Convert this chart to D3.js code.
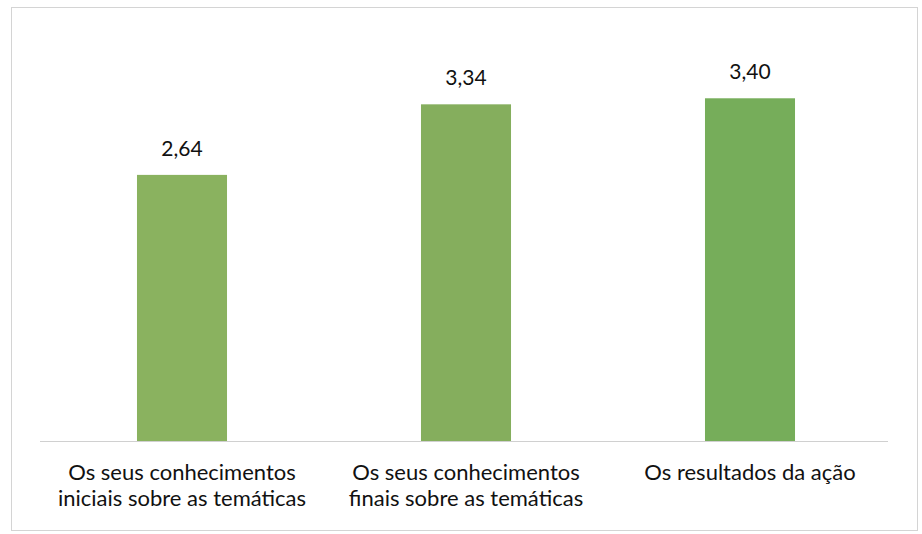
<!DOCTYPE html>
<html>
<head>
<meta charset="utf-8">
<script src="https://cdn.jsdelivr.net/npm/d3@7"></script>
<style>
  html, body { margin: 0; padding: 0; background: #fff; }
  svg { display: block; }
  text { font-family: Lato, "Open Sans", sans-serif; fill: #111; }
</style>
</head>
<body>
<svg id="chart" width="922" height="534"></svg>
<script>
// Average ratings per item
const categories = [
  ["Os seus conhecimentos", "iniciais sobre as temáticas"],
  ["Os seus conhecimentos", "finais sobre as temáticas"],
  ["Os resultados da ação"]
];
const values = [2.64, 3.34, 3.40];
const valueLabels = ["2,64", "3,34", "3,40"];
const barColors = ["#8ab25f", "#85ae5d", "#76ad5a"];

const svg = d3.select("#chart");

// outer frame
svg.append("rect")
  .attr("x", 11.5).attr("y", 7.5)
  .attr("width", 906).attr("height", 523)
  .attr("fill", "none").attr("stroke", "#d4d4d4").attr("stroke-width", 1);

const keys = categories.map((c, i) => i);
const x = d3.scaleBand().domain(keys).range([40, 892]).paddingInner(0.683).paddingOuter(0.3415);
const y = d3.scaleLinear().domain([0, 4]).range([441, 37.8]);

// bars
svg.append("g").selectAll("rect")
  .data(values)
  .join("rect")
  .attr("x", (d, i) => x(i))
  .attr("y", d => y(d))
  .attr("width", x.bandwidth())
  .attr("height", d => y(0) - y(d))
  .attr("fill", (d, i) => barColors[i]);

// category axis line
svg.append("line")
  .attr("x1", 40).attr("x2", 888)
  .attr("y1", y(0) + 0.5).attr("y2", y(0) + 0.5)
  .attr("stroke", "#d0d0d0").attr("stroke-width", 1);

// value labels
svg.append("g").selectAll("text")
  .data(values)
  .join("text")
  .attr("x", (d, i) => x(i) + x.bandwidth() / 2)
  .attr("y", d => y(d) - 19)
  .attr("text-anchor", "middle")
  .style("font-size", "21px")
  .text((d, i) => valueLabels[i]);

// category labels
const catG = svg.append("g").selectAll("text")
  .data(categories)
  .join("text")
  .attr("x", (d, i) => x(i) + x.bandwidth() / 2)
  .attr("y", 480)
  .attr("text-anchor", "middle")
  .style("font-size", "22px");
catG.selectAll("tspan")
  .data(d => d)
  .join("tspan")
  .attr("x", function() { return d3.select(this.parentNode).attr("x"); })
  .attr("dy", (d, j) => j === 0 ? 0 : 26)
  .text(d => d);
</script>
</body>
</html>
